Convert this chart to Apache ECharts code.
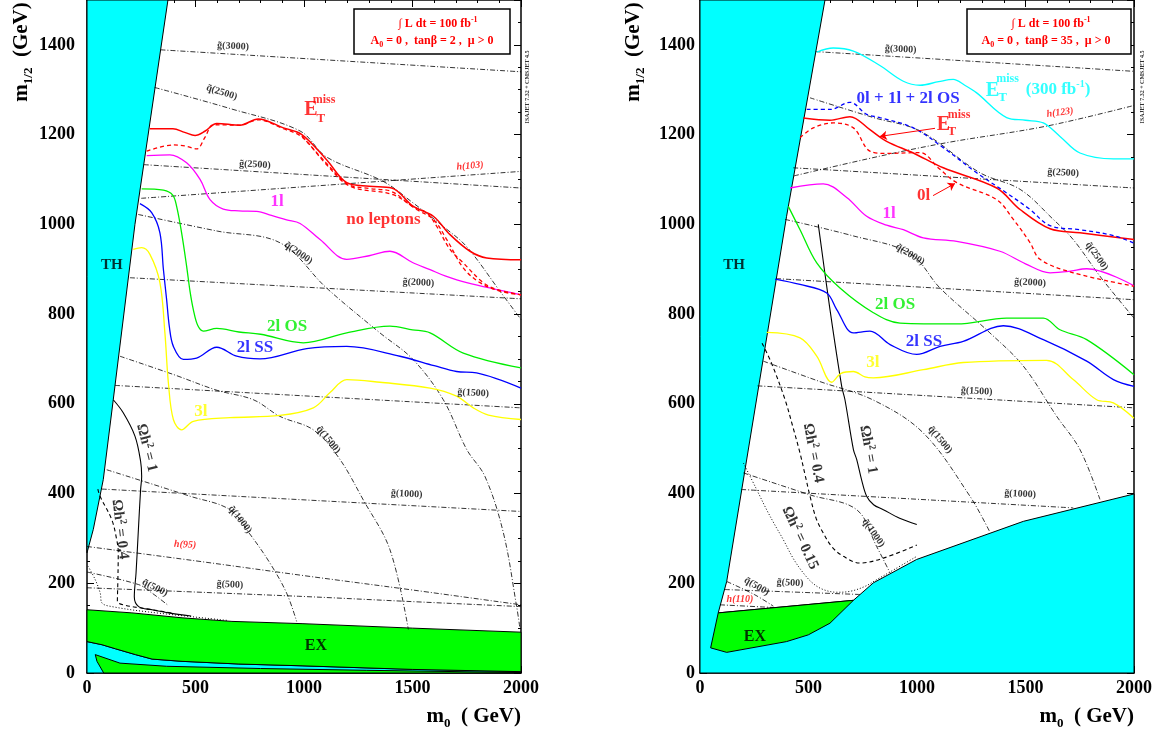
<!DOCTYPE html>
<html><head><meta charset="utf-8">
<script src="https://cdn.jsdelivr.net/npm/echarts@6/dist/echarts.min.js"></script>
<style>html,body{margin:0;padding:0;background:#fff}#c{width:1159px;height:733px}</style>
</head><body><div id="c"></div>
<script>
// ===================== DATA =====================
const xTicks = [0, 500, 1000, 1500, 2000];
const yTicks = [0, 200, 400, 600, 800, 1000, 1200, 1400];

// ---------- Left panel (tanβ = 2) ----------
const L_TH = [[0,1500],[373,1500],[221,1000],[121,609],[75,431],[29,320],[0,268]];
const L_LOWCYAN = [[0,0],[0,70],[69,63],[131,54],[223,41],[300,31],[438,26],[700,20],[991,16],[1500,8],[2000,3],[2000,0]];
const L_EX = [[0,141],[207,134],[438,123],[668,115],[991,110],[1500,100],[2000,91],[2000,3],[1500,8],[991,16],[700,20],[438,26],[300,31],[223,41],[131,54],[69,63],[0,70]];
const L_LOWGREEN = [[38,41],[152,22],[367,15],[800,10],[1289,6],[2000,1],[2000,0],[77,0],[46,26]];

const L_ET = [[290,1213],[396,1213],[450,1205],[498,1198],[545,1208],[598,1225],[705,1221],[789,1235],[905,1215],[990,1200],[1104,1144],[1197,1093],[1300,1085],[1404,1081],[1504,1040],[1596,1018],[1673,977],[1765,940],[1842,925],[2000,921]];
const L_ET_DASH = [[275,1163],[398,1177],[450,1175],[505,1168],[545,1195],[582,1222],[705,1221],[789,1233],[905,1213],[990,1195],[1100,1135],[1212,1085],[1411,1066],[1519,1033],[1596,1011],[1658,966],[1734,903],[1811,870],[1903,851],[2000,843]];
const L_NOLEP_DASH = [[990,1197],[1100,1138],[1200,1090],[1300,1080],[1404,1073],[1500,1040],[1565,1026],[1611,996],[1673,944],[1734,914],[1826,870],[1888,855],[2000,843]];
const L_1L = [[275,1153],[382,1155],[459,1137],[521,1100],[567,1055],[628,1034],[700,1030],[782,1029],[850,1020],[920,1010],[982,1002],[1074,966],[1197,922],[1300,930],[1396,940],[1500,915],[1581,899],[1650,885],[1750,870],[2000,843]];
const L_2LOS = [[252,1079],[352,1076],[395,1065],[413,1040],[436,981],[459,907],[475,850],[490,810],[510,775],[536,762],[598,768],[700,760],[800,755],[997,736],[1197,758],[1396,773],[1500,765],[1581,758],[1734,713],[2000,680]];
const L_2LSS = [[244,1046],[298,1026],[336,981],[352,900],[367,832],[380,770],[398,728],[444,699],[505,702],[598,726],[690,706],[797,700],[1012,723],[1197,728],[1442,706],[1600,685],[1703,672],[1795,669],[2000,635]];
const L_3L = [[213,944],[252,948],[290,933],[336,870],[359,758],[375,647],[398,565],[436,542],[490,561],[659,569],[889,574],[1043,591],[1120,625],[1197,654],[1350,648],[1581,635],[1703,617],[1780,591],[1850,575],[2000,565]];
const L_OMEGA1 = [[121,609],[167,580],[221,528],[247,472],[252,438],[247,409],[236,312],[226,223],[218,170],[238,148],[300,141],[376,134],[480,127]];
const L_OMEGA04 = [[50,410],[60,394],[114,342],[137,297],[144,268],[142,200],[140,160],[167,152],[275,143],[400,133]];
const L_OMEGA015 = [[5,238],[38,208],[61,178],[69,156],[115,148],[284,136],[653,117]];

const L_G3000 = [[339,1389],[2000,1340]];
const L_Q2500 = [[312,1305],[660,1258],[982,1208],[1104,1150],[1364,1096],[1502,1048],[1650,992],[1750,950],[1903,851],[2000,788]];
const L_G2500 = [[262,1133],[2000,1081]];
const L_H103 = [[250,1058],[2000,1118]];
const L_Q2000 = [[236,1022],[600,985],[889,959],[1104,858],[1350,758],[1502,699],[1642,609],[1750,498],[1834,438],[1919,312],[1980,148],[1995,100]];
const L_G2000 = [[198,881],[2000,834]];
const L_G1500 = [[129,641],[2000,591]];
const L_Q1500 = [[152,706],[400,665],[600,630],[767,609],[889,572],[1043,542],[1160,480],[1273,386],[1396,275],[1481,97]];
const L_G1000 = [[68,410],[2000,360]];
const L_Q1000 = [[91,453],[475,394],[659,364],[750,310],[843,245],[920,178],[966,115]];
const L_H95 = [[0,282],[500,250],[1000,217],[1500,185],[2000,152]];
const L_Q500 = [[0,225],[238,197],[300,178],[376,150]];
const L_G500 = [[0,190],[975,171],[1458,160],[2000,148]];

// ---------- Right panel (tanβ = 35) ----------
const R_CYAN = [[0,0],[0,1500],[576,1500],[399,1018],[123,204],[84,134],[707,162],[799,201],[998,253],[1490,338],[2000,399],[2000,0]];
const R_EX = [[84,134],[707,162],[599,111],[499,85],[399,70],[123,46],[49,56]];

const R_ET300 = [[538,1384],[614,1393],[707,1386],[829,1354],[937,1319],[1014,1310],[1100,1318],[1167,1323],[1220,1310],[1275,1293],[1413,1238],[1500,1232],[1582,1226],[1659,1196],[1751,1159],[1905,1146],[2000,1146]];
const R_COMB = [[492,1256],[599,1256],[691,1272],[768,1245],[829,1238],[983,1215],[1121,1171],[1275,1115],[1413,1070],[1521,1033],[1613,997],[1751,988],[1905,975],[2000,958]];
const R_0L = [[476,1237],[599,1232],[691,1240],[783,1211],[860,1185],[983,1159],[1121,1126],[1367,1081],[1475,1033],[1613,990],[1751,981],[2000,966]];
const R_ET_DASH = [[461,1193],[522,1215],[614,1226],[707,1215],[783,1163],[860,1158],[1014,1160],[1100,1125],[1183,1093],[1367,1055],[1444,1011],[1520,960],[1567,922],[1720,892],[2000,862]];
const R_1L = [[415,1081],[568,1090],[676,1060],[768,1018],[860,998],[937,988],[1029,970],[1183,962],[1382,940],[1500,912],[1613,892],[1700,895],[1782,901],[2000,863]];
const R_2LOS = [[407,1040],[461,988],[538,914],[645,858],[799,803],[922,780],[1183,778],[1413,791],[1582,791],[1659,765],[1782,743],[2000,665]];
const R_2LSS = [[346,878],[461,866],[584,847],[630,810],[707,758],[783,762],[876,732],[999,710],[1106,728],[1213,739],[1398,774],[1582,743],[1782,695],[1905,654],[2000,639]];
const R_3L = [[307,759],[461,747],[538,706],[607,648],[650,668],[707,672],[760,660],[799,658],[1029,676],[1213,692],[1597,697],[1720,654],[1828,609],[1905,602],[2000,568]];
const R_OMEGA1 = [[545,1000],[599,810],[653,639],[668,609],[707,498],[722,476],[745,430],[768,394],[800,375],[845,364],[920,345],[999,331]];
const R_OMEGA04 = [[286,735],[330,690],[392,609],[430,545],[461,490],[485,440],[507,394],[535,345],[568,312],[610,280],[661,260],[737,245],[845,256],[999,285]];
const R_OMEGA015 = [[200,468],[260,410],[307,364],[345,330],[384,297],[430,255],[476,223],[520,200],[568,186],[630,180],[691,182],[760,193],[814,208],[900,232],[999,260]];

const R_G3000 = [[533,1385],[2000,1341]];
const R_Q2500 = [[507,1282],[799,1238],[1014,1208],[1290,1115],[1475,1078],[1628,1011],[1720,966],[1850,880],[2000,791]];
const R_H123 = [[433,1108],[829,1152],[1137,1182],[1598,1219],[2000,1265]];
const R_G2500 = [[430,1126],[2000,1081]];
const R_Q2000 = [[392,1011],[700,975],[968,935],[1106,858],[1336,758],[1490,684],[1644,572],[1751,498],[1843,387]];
const R_G2000 = [[351,879],[2000,832]];
const R_G1500 = [[265,640],[2000,591]];
const R_Q1500 = [[292,695],[550,650],[800,608],[1029,535],[1244,394],[1336,314]];
const R_G1000 = [[190,409],[1720,368]];
const R_Q1000 = [[200,446],[507,397],[722,364],[814,282],[876,223]];
const R_G500 = [[115,186],[737,175]];
const R_Q500 = [[123,204],[250,175],[338,149]];
const R_H110 = [[92,152],[338,146]];

// arrows (right panel): label -> curve
const R_ARROWS = [[[1083,1214],[829,1196]], [[1074,1064],[1175,1091]]];

// ===================== STYLE / BUILD =====================
const FF = '"Liberation Serif","Times New Roman",serif';
const RED='#ff0000', MAG='#ff00ff', GRN='#00ee00', BLU='#0000ff', YEL='#ffff00', CYA='#00ffff', BLK='#000000';
const DASHDOT = [5,2,1,2];

function ln(gi, data, color, width, type, smooth) {
  return {type:'line', xAxisIndex:gi*2, yAxisIndex:gi*2, data:data, showSymbol:false, symbol:'none',
    smooth: smooth===undefined ? 0.35 : smooth, silent:true, z:5, animation:false,
    lineStyle:{color:color, width:width, type:type||'solid'}};
}
function poly(gi, pts, fill, z) {
  return {type:'custom', xAxisIndex:gi*2, yAxisIndex:gi*2, data:[pts[0]], silent:true, z:z||1, animation:false,
    renderItem:function(params, api){
      return {type:'polygon', shape:{points: pts.map(function(p){return api.coord(p);})},
        style:{fill:fill, stroke:'#000', lineWidth:1}};
    }};
}
function richFor(color, size) {
  return {
    p:{fontSize:Math.round(size*0.65), color:color, fontFamily:FF, fontWeight:'bold', verticalAlign:'top', lineHeight:Math.round(size*0.7)},
    s:{fontSize:Math.round(size*0.6), color:color, fontFamily:FF, fontWeight:'bold', verticalAlign:'top', lineHeight:Math.round(size*0.6)}
  };
}
function labels(gi, items) {
  return {type:'scatter', xAxisIndex:gi*2, yAxisIndex:gi*2, symbolSize:1, itemStyle:{color:'transparent'}, silent:true, z:10, animation:false,
    data: items.map(function(it){
      var size = it[4];
      return {value:[it[0], it[1]], label:{show:true, position:'inside', formatter:it[2], color:it[3], fontSize:size,
        rotate:it[5]||0, fontStyle:it[6]||'normal', fontWeight:'bold', fontFamily:FF, lineHeight:Math.round(size*1.2),
        rich: richFor(it[3], size)}};
    })};
}

const L_TEXT = [
  [1032,1256,'E',RED,20],[1078,1236,'T',RED,13],[1092,1277,'miss',RED,12],
  [1366,1010,'no leptons',RED,17],
  [876,1051,'1l',MAG,17],[922,772,'2l OS',GRN,17],[774,725,'2l SS',BLU,17],[525,583,'3l',YEL,17],
  [115,910,'TH',BLK,15],[1055,61,'EX',BLK,16],
  [275,502,'Ωh{p|2} = 1',BLK,15,-76],[152,320,'Ωh{p|2} = 0.4',BLK,15,-83],
  [673,1397,'g̃(3000)',BLK,10,-3],[621,1294,'q̃(2500)',BLK,10,-18],[774,1133,'g̃(2500)',BLK,10,-3],
  [1765,1130,'h(103)',RED,10,5,'italic'],[974,936,'q̃(2000)',BLK,10,-35],[1527,870,'g̃(2000)',BLK,10,-3],
  [1780,624,'g̃(1500)',BLK,10,-3],[1112,520,'q̃(1500)',BLK,10,-50],[1473,399,'g̃(1000)',BLK,10,-3],
  [705,342,'q̃(1000)',BLK,10,-52],[452,286,'h(95)',RED,10,-3,'italic'],[313,190,'q̃(500)',BLK,10,-27],[659,197,'g̃(500)',BLK,10,-3]
];
const R_TEXT = [
  [1122,1222,'E',RED,20],[1161,1206,'T',RED,13],[1194,1245,'miss',RED,12],
  [1348,1297,'E',CYA,20],[1394,1282,'T',CYA,13],[1417,1325,'miss',CYA,12],[1650,1301,'(300 fb{s|-1})',CYA,17],
  [959,1280,'0l + 1l + 2l OS',BLU,17],[1030,1064,'0l',RED,17],
  [871,1024,'1l',MAG,17],[899,821,'2l OS',GRN,17],[1032,739,'2l SS',BLU,17],[797,692,'3l',YEL,17],
  [157,910,'TH',BLK,15],[253,81,'EX',BLK,16],
  [522,490,'Ωh{p|2} = 0.4',BLK,15,-79],[776,498,'Ωh{p|2} = 1',BLK,15,-80],[461,301,'Ωh{p|2} = 0.15',BLK,15,-65],
  [925,1390,'g̃(3000)',BLK,10,-3],[1659,1249,'h(123)',RED,10,8,'italic'],[1674,1115,'g̃(2500)',BLK,10,-3],
  [1828,929,'q̃(2500)',BLK,10,-55],[968,933,'q̃(2000)',BLK,10,-32],[1521,870,'g̃(2000)',BLK,10,-3],
  [1275,628,'g̃(1500)',BLK,10,-3],[1106,520,'q̃(1500)',BLK,10,-50],[1475,399,'g̃(1000)',BLK,10,-3],
  [799,312,'q̃(1000)',BLK,10,-55],[415,201,'g̃(500)',BLK,10,-3],[261,193,'q̃(500)',BLK,10,-30],[184,163,'h(110)',RED,10,0,'italic']
];

function axes(gi, labelMargin) {
  const line = {onZero:false, lineStyle:{color:'#000', width:1.5}};
  const tick = {inside:true, length:7, lineStyle:{color:'#000', width:1}};
  const lab = {color:'#000', fontFamily:FF, fontWeight:'bold', fontSize:18};
  const xb = {gridIndex:gi, type:'value', min:0, max:2000, interval:500, position:'bottom', axisLine:line, axisTick:tick,
    minorTick:{show:true, splitNumber:5, length:3, lineStyle:{color:'#000'}}, splitLine:{show:false},
    axisLabel:Object.assign({margin:6, formatter:function(v){return xTicks.indexOf(v)>=0?String(v):'';}}, lab)};
  const xt = Object.assign({}, xb, {position:'top', axisLabel:{show:false}});
  const yl = {gridIndex:gi, type:'value', min:0, max:1500, interval:200, position:'left', axisLine:line, axisTick:tick,
    minorTick:{show:true, splitNumber:4, length:3, lineStyle:{color:'#000'}}, splitLine:{show:false},
    axisLabel:Object.assign({margin:labelMargin, showMaxLabel:false, formatter:function(v){return yTicks.indexOf(v)>=0?String(v):'';}}, lab)};
  const yr = Object.assign({}, yl, {position:'right', axisLabel:{show:false}});
  return {x:[xb, xt], y:[yl, yr]};
}
const A0 = axes(0, 12), A1 = axes(1, 5);

const series = [
  poly(0, L_TH, CYA), poly(0, L_LOWCYAN, CYA), poly(0, L_EX, '#00ff00'), poly(0, L_LOWGREEN, '#00ff00'),
  poly(1, R_CYAN, CYA), poly(1, R_EX, '#00ff00', 2),
  ln(0, L_G3000, BLK, 0.8, DASHDOT), ln(0, L_Q2500, BLK, 0.8, DASHDOT), ln(0, L_G2500, BLK, 0.8, DASHDOT),
  ln(0, L_H103, BLK, 0.8, DASHDOT), ln(0, L_Q2000, BLK, 0.8, DASHDOT), ln(0, L_G2000, BLK, 0.8, DASHDOT),
  ln(0, L_G1500, BLK, 0.8, DASHDOT), ln(0, L_Q1500, BLK, 0.8, DASHDOT), ln(0, L_G1000, BLK, 0.8, DASHDOT),
  ln(0, L_Q1000, BLK, 0.8, DASHDOT), ln(0, L_H95, BLK, 0.8, DASHDOT), ln(0, L_Q500, BLK, 0.8, DASHDOT),
  ln(0, L_G500, BLK, 0.8, DASHDOT),
  ln(0, L_OMEGA1, BLK, 1.1, 'solid'), ln(0, L_OMEGA04, BLK, 1.1, [4,3]), ln(0, L_OMEGA015, BLK, 1, [1,2]),
  ln(0, L_3L, YEL, 1.3), ln(0, L_2LSS, BLU, 1.3), ln(0, L_2LOS, GRN, 1.3), ln(0, L_1L, MAG, 1.3),
  ln(0, L_NOLEP_DASH, RED, 1.3, [4,3]), ln(0, L_ET_DASH, RED, 1.3, [4,3]), ln(0, L_ET, RED, 1.5),
  ln(1, R_G3000, BLK, 0.8, DASHDOT), ln(1, R_Q2500, BLK, 0.8, DASHDOT), ln(1, R_H123, BLK, 0.8, DASHDOT),
  ln(1, R_G2500, BLK, 0.8, DASHDOT), ln(1, R_Q2000, BLK, 0.8, DASHDOT), ln(1, R_G2000, BLK, 0.8, DASHDOT),
  ln(1, R_G1500, BLK, 0.8, DASHDOT), ln(1, R_Q1500, BLK, 0.8, DASHDOT), ln(1, R_G1000, BLK, 0.8, DASHDOT),
  ln(1, R_Q1000, BLK, 0.8, DASHDOT), ln(1, R_G500, BLK, 0.8, DASHDOT), ln(1, R_Q500, BLK, 0.8, DASHDOT),
  ln(1, R_H110, BLK, 0.8, DASHDOT),
  ln(1, R_OMEGA1, BLK, 1.1, 'solid'), ln(1, R_OMEGA04, BLK, 1.1, [4,3]), ln(1, R_OMEGA015, BLK, 1, [1,2]),
  ln(1, R_3L, YEL, 1.3), ln(1, R_2LSS, BLU, 1.3), ln(1, R_2LOS, GRN, 1.3), ln(1, R_1L, MAG, 1.3),
  ln(1, R_ET300, CYA, 1.3), ln(1, R_ET_DASH, RED, 1.3, [4,3]), ln(1, R_0L, RED, 1.5), ln(1, R_COMB, BLU, 1.3, [4,3]),
  {type:'lines', coordinateSystem:'cartesian2d', xAxisIndex:2, yAxisIndex:2, silent:true, z:8, animation:false,
    symbol:['none','arrow'], symbolSize:7, lineStyle:{color:RED, width:1, opacity:1},
    data: R_ARROWS.map(function(a){return {coords:a};})},
  labels(0, L_TEXT), labels(1, R_TEXT)
];

function boxGraphic(x, line1x, line2x, tanb) {
  const rich = {
    n:{fontSize:12, fontWeight:'bold', fontFamily:FF, fill:RED, lineHeight:16},
    s:{fontSize:8, fontWeight:'bold', fontFamily:FF, fill:RED, verticalAlign:'top', lineHeight:8},
    b:{fontSize:8, fontWeight:'bold', fontFamily:FF, fill:RED, verticalAlign:'bottom', lineHeight:8}
  };
  return [
    {type:'rect', shape:{x:x, y:9, width: (tanb==='2'?156:164), height:45}, style:{fill:'#fff', stroke:'#000', lineWidth:1.5}, z:20},
    {type:'text', x:line1x, y:24, z:21, style:{text:'{n|∫ L dt = 100 fb}{s|-1}', rich:rich, align:'center', verticalAlign:'middle'}},
    {type:'text', x:line2x, y:41, z:21, style:{text:'{n|A}{b|0}{n| = 0 ,  tanβ = '+tanb+' ,  μ > 0}', rich:rich, align:'center', verticalAlign:'middle'}}
  ];
}
function yName(x) {
  return {type:'text', x:x, y:52, rotation:Math.PI/2, z:20, style:{
    text:'{m|m}{s|1/2}{m|  (GeV)}', align:'center', verticalAlign:'middle',
    rich:{m:{fontSize:21, fontWeight:'bold', fontFamily:FF, fill:'#000', lineHeight:26},
          s:{fontSize:13, fontWeight:'bold', fontFamily:FF, fill:'#000', verticalAlign:'bottom', lineHeight:13}}}};
}
function xName(xRight) {
  return {type:'text', x:xRight, y:717, z:20, style:{
    text:'{m|m}{s|0}{m|  ( GeV)}', align:'right', verticalAlign:'middle',
    rich:{m:{fontSize:21, fontWeight:'bold', fontFamily:FF, fill:'#000', lineHeight:26},
          s:{fontSize:13, fontWeight:'bold', fontFamily:FF, fill:'#000', verticalAlign:'bottom', lineHeight:13}}}};
}
function isajet(x) {
  return {type:'text', x:x, y:87, rotation:Math.PI/2, z:20, style:{text:'ISAJET 7.32 + CMSJET 4.5', font:'bold 6px '+FF, fill:'#333', align:'center', verticalAlign:'middle'}};
}

const option = {
  animation:false,
  backgroundColor:'#fff',
  grid:[{left:87, top:0, width:434, height:673}, {left:700, top:0, width:434, height:673}],
  xAxis:[A0.x[0], A0.x[1], A1.x[0], A1.x[1]],
  yAxis:[A0.y[0], A0.y[1], A1.y[0], A1.y[1]],
  series: series,
  graphic: [].concat(boxGraphic(354, 438, 432, '2'), boxGraphic(967, 1051, 1046, '35'),
    [yName(22), yName(634), xName(521), xName(1134), isajet(527), isajet(1142)])
};
const chart = echarts.init(document.getElementById('c'), null, {renderer:'canvas'});
chart.setOption(option);
</script></body></html>
